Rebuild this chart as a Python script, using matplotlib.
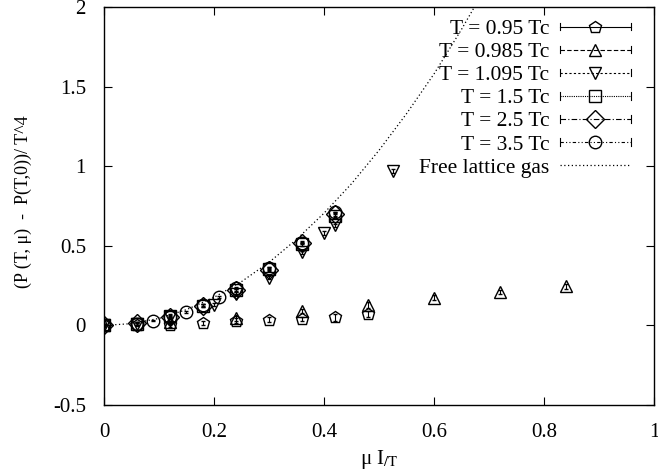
import numpy as np
import matplotlib
matplotlib.use('Agg')
import matplotlib.pyplot as plt
from matplotlib.lines import Line2D
from matplotlib.legend_handler import HandlerLine2D

plt.rcParams['font.family'] = ['Liberation Serif', 'DejaVu Serif']
plt.rcParams['mathtext.fontset'] = 'stix'
plt.rcParams['axes.unicode_minus'] = False
plt.rcParams['font.size'] = 15

# T = 0.95 Tc
x095 = [0.0, 0.06, 0.12, 0.18, 0.24, 0.30, 0.36, 0.42, 0.48]
y095 = [0.0, 0.005, 0.0, 0.015, 0.03, 0.035, 0.04, 0.05, 0.07]
e095 = [0.01, 0.01, 0.01, 0.01, 0.015, 0.015, 0.015, 0.02, 0.02]
# T = 0.985 Tc
x0985 = [0.0, 0.12, 0.24, 0.36, 0.48, 0.60, 0.72, 0.84]
y0985 = [0.0, 0.02, 0.045, 0.09, 0.13, 0.175, 0.21, 0.245]
e0985 = [0.01, 0.01, 0.015, 0.015, 0.02, 0.015, 0.015, 0.015]
# T = 1.095 Tc
x1095 = [0.0, 0.06, 0.12, 0.20, 0.24, 0.30, 0.36, 0.40, 0.42, 0.525]
y1095 = [0.0, 0.01, 0.05, 0.13, 0.2, 0.30, 0.46, 0.58, 0.63, 0.97]
e1095 = [0.01, 0.01, 0.01, 0.01, 0.01, 0.01, 0.01, 0.01, 0.01, 0.01]
# T = 1.5 Tc
x15 = [0.0, 0.06, 0.12, 0.18, 0.24, 0.30, 0.36, 0.42]
y15 = [0.0, 0.01, 0.06, 0.125, 0.22, 0.355, 0.51, 0.69]
e15 = [0.01, 0.01, 0.01, 0.01, 0.01, 0.01, 0.01, 0.01]
# T = 2.5 Tc
x25 = [0.0, 0.06, 0.12, 0.18, 0.24, 0.30, 0.36, 0.42]
y25 = [0.0, 0.012, 0.055, 0.125, 0.225, 0.35, 0.52, 0.70]
e25 = [0.01, 0.01, 0.01, 0.01, 0.01, 0.01, 0.01, 0.01]
# T = 3.5 Tc
x35 = [0.0, 0.06, 0.09, 0.12, 0.15, 0.18, 0.21, 0.24, 0.30, 0.36, 0.42]
y35 = [0.0, 0.01, 0.03, 0.05, 0.085, 0.13, 0.18, 0.235, 0.36, 0.52, 0.71]
e35 = [0.005, 0.005, 0.005, 0.005, 0.005, 0.005, 0.005, 0.005, 0.005, 0.005, 0.005]
# free lattice gas
xfree = [0.0, 0.05, 0.1, 0.15, 0.2, 0.25, 0.3, 0.35, 0.4, 0.45, 0.5, 0.55, 0.6, 0.65, 0.7]
yfree = [0.0, 0.011, 0.044, 0.099, 0.176, 0.275, 0.396, 0.54, 0.705, 0.89, 1.10, 1.33, 1.58, 1.86, 2.16]

series = [
    (x095, y095, e095, 'p', '-', 'T = 0.95 Tc'),
    (x0985, y0985, e0985, '^', (0, (4, 2)), 'T = 0.985 Tc'),
    (x1095, y1095, e1095, 'v', (0, (2, 2)), 'T = 1.095 Tc'),
    (x15, y15, e15, 's', (0, (1, 1)), 'T = 1.5 Tc'),
    (x25, y25, e25, 'D', (0, (5, 2, 1, 2)), 'T = 2.5 Tc'),
    (x35, y35, e35, 'o', (0, (3, 2, 1, 2, 1, 2)), 'T = 3.5 Tc'),
]


class HandlerEB(HandlerLine2D):
    # gnuplot-style errorbar key: line with end ticks
    def create_artists(self, legend, orig_handle, xdescent, ydescent,
                       width, height, fontsize, trans):
        arts = super().create_artists(legend, orig_handle, xdescent, ydescent,
                                      width, height, fontsize, trans)
        y = (height - ydescent) / 2
        h = height * 0.25
        for x in (-xdescent, width - xdescent):
            arts.append(Line2D([x, x], [y - h, y + h], color='k', lw=0.8,
                               transform=trans))
        return arts


fig = plt.figure(figsize=(6.58, 4.72), dpi=100)
ax = fig.add_axes([0.158, 0.142, 0.836, 0.843])

handles = []
hmap = {}
for xs, ys, es, m, ls, lab in series:
    ax.errorbar(xs, ys, yerr=es, fmt=m, color='k', mfc='none', ms=9,
                mew=1.0, elinewidth=0.8, capsize=1.5, ls='none')
    h = Line2D([], [], color='k', ls=ls, lw=0.8, marker=m, mfc='none',
               ms=9, mew=1.0)
    handles.append(h)
    hmap[h] = HandlerEB()

free, = ax.plot(xfree, yfree, color='k', ls=(0, (1, 2)), lw=0.9)
handles.append(Line2D([], [], color='k', ls=(0, (1, 2)), lw=0.9))
labels = [s[5] for s in series] + ['Free lattice gas']

ax.set_xlim(0, 1)
ax.set_ylim(-0.5, 2)
ax.set_xticks([0, 0.2, 0.4, 0.6, 0.8, 1])
ax.set_xticklabels(['0', '0.2', '0.4', '0.6', '0.8', '1'])
ax.set_yticks([-0.5, 0, 0.5, 1, 1.5, 2])
ax.set_yticklabels(['-0.5', '0', '0.5', '1', '1.5', '2'])
ax.tick_params(direction='in', top=True, right=True, length=6, width=0.8,
               pad=13, labelsize=15)
for s in ax.spines.values():
    s.set_linewidth(1.0)

ax.set_xlabel(r'μ I$_{/\mathrm{T}}$', fontsize=15, labelpad=4)
ax.set_ylabel('(P (T, μ)  -  P(T,0))/ T^4', fontsize=13)
ax.yaxis.set_label_coords(-0.13, 0.51)

leg = ax.legend(handles, labels, handler_map=hmap, loc='upper right',
                bbox_to_anchor=(0.958, 0.97), frameon=False, markerfirst=False,
                numpoints=1, handlelength=3.3, handletextpad=0.5,
                labelspacing=0.14, borderaxespad=0, borderpad=0, fontsize=15.5)

fig.savefig('out.png', dpi=100)
